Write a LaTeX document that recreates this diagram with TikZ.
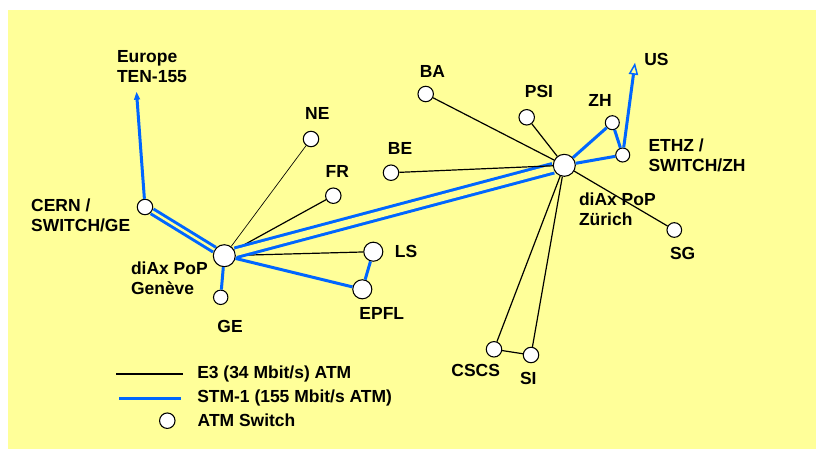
\documentclass[tikz,border=0pt]{standalone}
\usepackage{fontspec}
\setmainfont{Liberation Sans}
\usepackage{tikz}
\usetikzlibrary{arrows.meta}
\definecolor{bgyellow}{RGB}{255,255,153}
\definecolor{stmblue}{RGB}{0,102,255}

\begin{document}
\begin{tikzpicture}[x=0.75pt,y=-0.75pt,
      every label/.style={font=\bfseries\fontsize{13.1}{15}\selectfont,inner sep=0pt,align=left},
      main node/.style={circle,draw,fill=white,line width=0.8pt,inner sep=0pt,minimum size=11.6pt},
      pop node/.style={main node,minimum size=16.5pt},
      e3/.style={draw=black,line width=0.9pt},
      stm/.style={draw=stmblue,line width=2.25pt}]
  \useasboundingbox (0,0) rectangle (816,457);
  \fill[bgyellow] (8,10) rectangle (816,449);

  % the two diAx PoPs
  \node[pop node, label={[label distance=3.6pt, yshift=-17pt]left:diAx PoP\\Genève}] (gva) at (224.3,255.7) {};
  \node[pop node, label={[label distance=2.2pt, yshift=-33pt]right:diAx PoP\\Zürich}] (zrh) at (564.3,165.3) {};

  % Geneva side
  \node[main node, label={[label distance=4.7pt, yshift=-6.4pt]left:CERN /\\SWITCH/GE}] (cern) at (145,207) {};
  \coordinate[label={[label distance=1.3pt, xshift=12pt]above:Europe\\TEN-155}] (eu) at (136,85);
  \node[main node, label={[label distance=8.3pt, xshift=4.7pt]above:NE}] (ne) at (311,139) {};
  \node[main node, label={[label distance=7.5pt, xshift=3pt]above:FR}] (fr) at (333.3,195.7) {};
  \node[main node, minimum size=10.8pt, label={[label distance=11.2pt, xshift=7pt]below:GE}] (ge) at (220.7,297.3) {};
  \node[main node, minimum size=14.3pt, label={[label distance=8.4pt]right:LS}] (ls) at (373.3,251.7) {};
  \node[main node, minimum size=14.3pt, label={[label distance=5.7pt, xshift=14.6pt]below:EPFL}] (epfl) at (362.3,289.3) {};

  % Zurich side
  \node[main node, label={[label distance=5.7pt, xshift=5pt]above:BA}] (ba) at (425.7,94) {};
  \node[main node, label={[label distance=8.1pt, xshift=9.2pt]above:PSI}] (psi) at (526.7,117.3) {};
  \node[main node, label={[label distance=7.6pt, xshift=6.8pt]above:BE}] (be) at (391,172.7) {};
  \node[main node, minimum size=10.5pt, label={[label distance=6.6pt, xshift=-9.2pt]above:ZH}] (zh) at (612.3,122.7) {};
  \node[main node, minimum size=10.5pt, label={[label distance=13.5pt]right:ETHZ /\\SWITCH/ZH}] (ethz) at (622.7,155) {};
  \coordinate[label={[label distance=6.8pt, yshift=2.2pt]right:US}] (us) at (635,62.7);
  \node[main node, minimum size=11pt, label={[label distance=6.5pt, xshift=6.3pt]below:SG}] (sg) at (674.3,230) {};
  \node[main node, label={[label distance=4.5pt, xshift=-13.7pt]below:CSCS}] (cscs) at (494,349.3) {};
  \node[main node, label={[label distance=6.9pt, xshift=-2pt]below:SI}] (si) at (531,355) {};

  \path
    (gva) edge[e3, line width=0.5pt] (ne)
    (gva) edge[e3] (fr)
    (gva) edge[e3] (ls)
    (gva) edge[stm] (ge)
    (gva) edge[stm] (epfl)
    (epfl) edge[stm] (ls)
    (gva) edge[stm, double=bgyellow, double distance=1.8pt] (cern)
    (cern) edge[stm, -{Latex[length=11pt,width=4.5pt]}] (eu)
    (gva) edge[stm, double=bgyellow, double distance=5pt] (zrh);
  \path
    (zrh) edge[e3] (ba)
    (zrh) edge[e3] (psi)
    (zrh) edge[e3] (be)
    (zrh) edge[e3] (sg)
    (zrh) edge[e3] (cscs)
    (zrh) edge[e3] (si)
    (cscs) edge[e3] (si)
    (zrh) edge[stm] (zh)
    (zrh) edge[stm] (ethz)
    (zh) edge[stm] (ethz)
    (ethz) edge[stm, -{Triangle[open,length=9pt,width=7pt,line width=1.1pt]}] (us);

  % legend
  \coordinate (e3 a) at (116,374);
  \coordinate[label={[label distance=10.5pt]right:E3 (34 Mbit/s) ATM}] (e3 b) at (183,374);
  \coordinate (stm a) at (119,398);
  \coordinate[label={[label distance=12pt]right:STM-1 (155 Mbit/s ATM)}] (stm b) at (181,398);
  \node[main node, label={[label distance=16.4pt]right:ATM Switch}] (sw) at (167.3,420.7) {};
  \draw[e3, line width=1.5pt] (e3 a) -- (e3 b);
  \draw[stm] (stm a) -- (stm b);
\end{tikzpicture}
\end{document}
